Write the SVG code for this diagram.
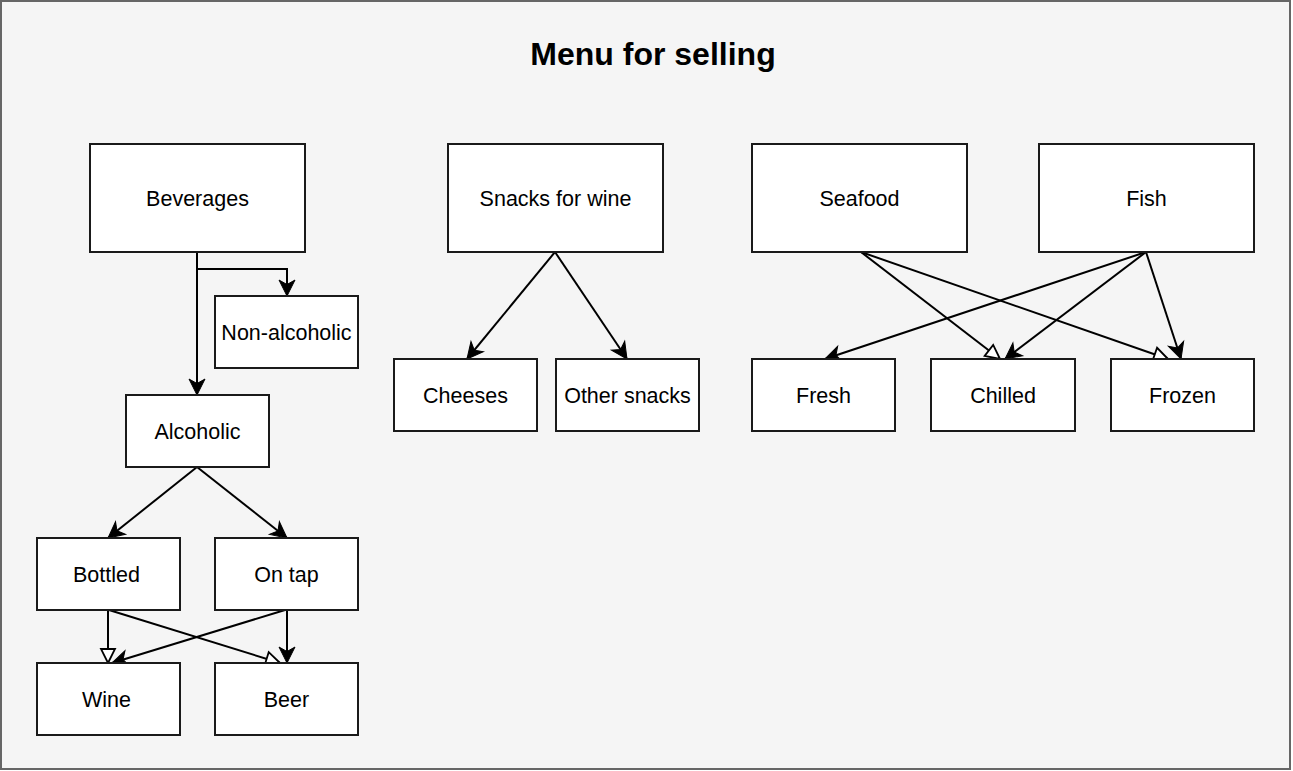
<svg xmlns="http://www.w3.org/2000/svg" width="1293" height="771" viewBox="0 0 1293 771">
  <style>
    .box { fill: #ffffff; stroke: #1a1a1a; stroke-width: 2; }
    .lbl { font-family: "Liberation Sans", Arial, sans-serif; font-size: 21.5px; fill: #000; text-anchor: middle; }
    .title { font-family: "Liberation Sans", Arial, sans-serif; font-size: 32px; font-weight: bold; fill: #000; text-anchor: middle; }
    .edge { fill: none; stroke: #000; stroke-width: 2; }
    .filled { marker-end: url(#arrowFilled); }
    .open { marker-end: url(#arrowOpen); }
  </style>
  <defs>
    <!-- classic notched arrowhead -->
    <marker id="arrowFilled" markerUnits="userSpaceOnUse" markerWidth="17" markerHeight="17" refX="16" refY="8" orient="auto" overflow="visible">
      <path d="M16,8 L0,0 L4.5,8 L0,16 Z" fill="#000" stroke="#000" stroke-width="1"/>
    </marker>
    <!-- hollow triangle arrowhead -->
    <marker id="arrowOpen" markerUnits="userSpaceOnUse" markerWidth="16" markerHeight="16" refX="14" refY="7" orient="auto" overflow="visible">
      <path d="M14,7 L0,0 L0,14 Z" fill="#ffffff" stroke="#000" stroke-width="1.8"/>
    </marker>
  </defs>

  <!-- background frame -->
  <rect x="1" y="1" width="1289" height="768" fill="#f5f5f5" stroke="#666666" stroke-width="2"/>
  <text class="title" x="653" y="65">Menu for selling</text>

  <g id="connectors">
    <!-- Beverages -->
    <path class="edge filled" d="M197,252 L197,395"/>
    <path class="edge filled" d="M197,269 L287,269 L287,296"/>
    <!-- Alcoholic -->
    <path class="edge filled" d="M197,467 L108,538"/>
    <path class="edge filled" d="M197,467 L287,538"/>
    <!-- Bottled / On tap -->
    <path class="edge open" d="M108,610 L108,663"/>
    <path class="edge open" d="M109,610 L280,663"/>
    <path class="edge filled" d="M287,610 L287,663"/>
    <path class="edge filled" d="M285,610 L112,663"/>
    <!-- Snacks for wine -->
    <path class="edge filled" d="M555,252 L467,359"/>
    <path class="edge filled" d="M555,252 L627,359"/>
    <!-- Seafood -->
    <path class="edge open" d="M861,252 L1000,359"/>
    <path class="edge open" d="M861,252 L1168,359"/>
    <!-- Fish -->
    <path class="edge filled" d="M1146,252 L825,359"/>
    <path class="edge filled" d="M1146,252 L1005,359"/>
    <path class="edge filled" d="M1146,252 L1181,359"/>
  </g>

  <g id="beverages"><rect class="box" x="90" y="144" width="215" height="108"/><text class="lbl" x="197.5" y="206">Beverages</text></g>
  <g id="snacks-for-wine"><rect class="box" x="448" y="144" width="215" height="108"/><text class="lbl" x="555.5" y="206">Snacks for wine</text></g>
  <g id="seafood"><rect class="box" x="752" y="144" width="215" height="108"/><text class="lbl" x="859.5" y="206">Seafood</text></g>
  <g id="fish"><rect class="box" x="1039" y="144" width="215" height="108"/><text class="lbl" x="1146.5" y="206">Fish</text></g>

  <g id="non-alcoholic"><rect class="box" x="215" y="296" width="143" height="72"/><text class="lbl" x="286.5" y="340">Non-alcoholic</text></g>
  <g id="alcoholic"><rect class="box" x="126" y="395" width="143" height="72"/><text class="lbl" x="197.5" y="439">Alcoholic</text></g>
  <g id="bottled"><rect class="box" x="37" y="538" width="143" height="72"/><text class="lbl" x="106.5" y="582">Bottled</text></g>
  <g id="on-tap"><rect class="box" x="215" y="538" width="143" height="72"/><text class="lbl" x="286.5" y="582">On tap</text></g>
  <g id="wine"><rect class="box" x="37" y="663" width="143" height="72"/><text class="lbl" x="106.5" y="707">Wine</text></g>
  <g id="beer"><rect class="box" x="215" y="663" width="143" height="72"/><text class="lbl" x="286.5" y="707">Beer</text></g>

  <g id="cheeses"><rect class="box" x="394" y="359" width="143" height="72"/><text class="lbl" x="465.5" y="403">Cheeses</text></g>
  <g id="other-snacks"><rect class="box" x="556" y="359" width="143" height="72"/><text class="lbl" x="627.5" y="403">Other snacks</text></g>
  <g id="fresh"><rect class="box" x="752" y="359" width="143" height="72"/><text class="lbl" x="823.5" y="403">Fresh</text></g>
  <g id="chilled"><rect class="box" x="931" y="359" width="144" height="72"/><text class="lbl" x="1003" y="403">Chilled</text></g>
  <g id="frozen"><rect class="box" x="1111" y="359" width="143" height="72"/><text class="lbl" x="1182.5" y="403">Frozen</text></g>
</svg>
